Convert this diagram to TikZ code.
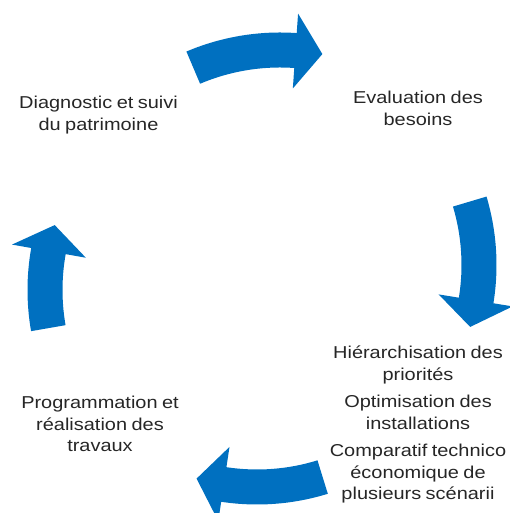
\documentclass[tikz,border=0pt]{standalone}
\usepackage{fontspec}
\setmainfont{Liberation Sans}[FakeStretch=1.16,WordSpace=0.8]
\usepackage{tikz}
\definecolor{cycleblue}{RGB}{0,112,192}
\tikzset{
  cycletext/.style={align=center, inner sep=0pt, anchor=north,
    font=\fontsize{17.2}{21.5}\selectfont, text=black!85}
}
% curved block arrow: centre, tail angle, head base angle, tip angle
\newcommand{\cyclearrow}[4]{%
  \fill[cycleblue, shift={(#1)}]
    (#2:204.5pt) arc[start angle=#2, end angle=#3, radius=204.5pt]
    -- (#3:184pt) -- (#4:222pt) -- (#3:259pt) -- (#3:239.5pt)
    arc[start angle=#3, end angle=#2, radius=239.5pt] -- cycle;}

\begin{document}
\begin{tikzpicture}[x=1pt, y=1pt]
\useasboundingbox (0,0) rectangle (509,513);

\cyclearrow{280,241}{113}{86}{79}
\cyclearrow{257,248}{16.6}{-9.2}{-16.2}
\cyclearrow{257,248}{-72.8}{-98.6}{-105.8}
\cyclearrow{267,223}{189.9}{169.9}{163}

\node[cycletext] (diag) at (98.5,417) {Diagnostic et suivi\\du patrimoine};
\node[cycletext] (eval) at (418,422) {Evaluation des\\besoins};
\node[cycletext] (prio) at (418,167) {Hiérarchisation des\\priorités\\[6pt]
  Optimisation des\\installations\\[6pt]
  Comparatif technico\\économique de\\plusieurs scénarii};
\node[cycletext] (prog) at (100,117) {Programmation et\\réalisation des\\travaux};
\end{tikzpicture}
\end{document}
